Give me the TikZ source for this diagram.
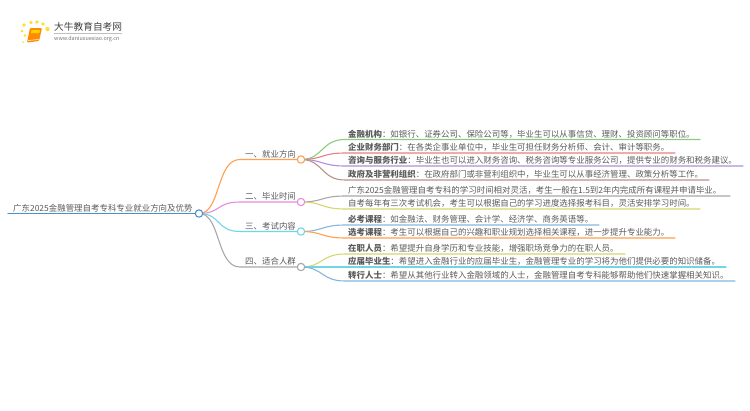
\documentclass[tikz,border=0pt]{standalone}
\usepackage{fontspec}
\usetikzlibrary{calc}
\setmainfont{Noto Sans CJK SC}
\definecolor{txtgray}{HTML}{5A5A5A}
\definecolor{cOrange}{HTML}{FF9F4F}
\definecolor{cPink}{HTML}{E88BDC}
\definecolor{cCyan}{HTML}{6FD6E6}
\definecolor{cGray}{HTML}{A8A8A8}
\definecolor{cBlue}{HTML}{4A90C8}
\definecolor{cGreen}{HTML}{8CCB7C}
\definecolor{cRed}{HTML}{E57F7F}
\definecolor{cPurple}{HTML}{B08FD8}
\definecolor{cBrown}{HTML}{B9928A}
\definecolor{cYellow}{HTML}{D6D66E}
\definecolor{cSky}{HTML}{85B5DC}
\tikzset{
	dotnode/.style={circle, draw=#1, fill=white, line width=1.1pt, minimum size=7.4pt, inner sep=0pt},
	txtnode/.style={anchor=base west, inner sep=0pt, text=txtgray, font=\fontsize{8.45}{10}\selectfont},
	wire/.style={line width=1.1pt, line cap=round},
	logodot/.style={fill=#1, draw=none}
}
\begin{document}
\begin{tikzpicture}[x=1pt, y=-1pt, line join=round]
	\useasboundingbox (0,0) rectangle (750,410);
	% logo
	\foreach \x/\y/\r in {24/25/1.8,31/22.5/1.8,37/22/1.8,43/24/1.8,47.5/29/2.2,22/31/1.5,25/35.5/1.3,23/42/1}
		\fill[logodot=yellow!75!orange!80] (\x,\y) circle (\r);
	\fill[orange!90!yellow, rounded corners=1pt] (30,28) -- (42,28) -- (39,41) -- (27,42.5) -- cycle;
	\fill[yellow!70!orange] (31.5,30) -- (40,30) -- (39.3,33) -- (31,33) -- cycle;
	\draw[white, line width=.5pt] (28,40.5) -- (38.5,39.5);
	\node[txtnode, text=black!75, font=\fontsize{9.7}{11}\selectfont] (brand) at (54,30) {大牛教育自考网};
	\draw[black!25, line width=.5pt] (54,33.5) -- (122,33.5);
	\node[txtnode, text=black!55, font=\fontsize{5.4}{7}\selectfont] (site) at (54,40.5) {www.daniuxuexiao.org.cn};
	% root
	\path
	(8,213.5) coordinate (rootL)
	(199,213.5) coordinate (root)
	(240,159.5) coordinate (k1)
	(240,202) coordinate (k2)
	(240,231.5) coordinate (k3)
	(240,267) coordinate (k4)
	(301,159.5) coordinate (b1)
	(301,202) coordinate (b2)
	(301,231.5) coordinate (b3)
	(301,267) coordinate (b4);
	\node[txtnode] (title) at (13,211) {广东2025金融管理自考专科专业就业方向及优势};
	\draw[wire, cBlue] (rootL) -- (root);
	% branches
	\foreach \b/\c/\t in {1/cOrange/一、就业方向, 2/cPink/二、毕业时间, 3/cCyan/三、考试内容, 4/cGray/四、适合人群}{
		\draw[wire, \c] (root) .. controls ($(root)+(22,0)$) and ($(k\b)+(-24,0)$) .. (k\b) -- (b\b);
		\node[txtnode] (lab\b) at ($(k\b)+(5,-2.5)$) {\t};
	}
	% leaves
	\foreach \b/\c/\y/\e/\t in {
		1/cGreen/139.5/700/{\textbf{金融机构}：如银行、证券公司、保险公司等，毕业生可以从事信贷、理财、投资顾问等职位。},
		1/cRed/153/675/{\textbf{企业财务部门}：在各类企事业单位中，毕业生可担任财务分析师、会计、审计等职务。},
		1/cPurple/166/743/{\textbf{咨询与服务行业}：毕业生也可以进入财务咨询、税务咨询等专业服务公司，提供专业的财务和税务建议。},
		1/cBrown/180/709/{\textbf{政府及非营利组织}：在政府部门或非营利组织中，毕业生可以从事经济管理、政策分析等工作。},
		2/cGray/196/730/{广东2025金融管理自考专科的学习时间相对灵活，考生一般在1.5到2年内完成所有课程并申请毕业。},
		2/cYellow/209/700/{自考每年有三次考试机会，考生可以根据自己的学习进度选择报考科目，灵活安排学习时间。},
		3/cSky/225/599/{\textbf{必考课程}：如金融法、财务管理、会计学、经济学、商务英语等。},
		3/cOrange/238/675/{\textbf{选考课程}：考生可以根据自己的兴趣和职业规划选择相关课程，进一步提升专业能力。},
		4/cYellow/254/625/{\textbf{在职人员}：希望提升自身学历和专业技能，增强职场竞争力的在职人员。},
		4/cCyan/267/726/{\textbf{应届毕业生}：希望进入金融行业的应届毕业生，金融管理专业的学习将为他们提供必要的知识储备。},
		4/cSky/281/735/{\textbf{转行人士}：希望从其他行业转入金融领域的人士，金融管理自考专科能够帮助他们快速掌握相关知识。}}{
		\coordinate (s) at (345,\y);
		\coordinate (e) at (\e,\y);
		\draw[wire, \c] (b\b) .. controls ($(b\b)+(22,0)$) and ($(s)+(-24,0)$) .. (s) -- (e);
		\node[txtnode] (leaf) at ($(s)+(3,-2.5)$) {\t};
	}
	% dots on top
	\node[dotnode=cBlue] (rootdot) at (root) {};
	\foreach \b/\c in {1/cOrange,2/cPink,3/cCyan,4/cGray}
		\node[dotnode=\c] (dot\b) at (b\b) {};
\end{tikzpicture}
\end{document}
